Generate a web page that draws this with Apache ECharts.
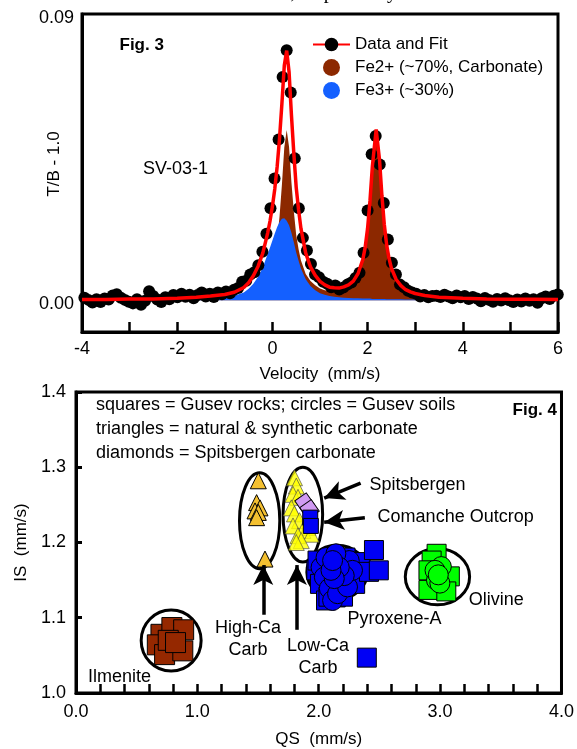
<!DOCTYPE html>
<html>
<head>
<meta charset="utf-8">
<script src="https://cdn.jsdelivr.net/npm/echarts@6/dist/echarts.min.js"></script>
<style>
html, body { margin: 0; padding: 0; background: #fff; }
#chart { width: 577px; height: 749px; }
</style>
</head>
<body>
<div id="chart"></div>
<script>
// ---- Fig. 3 : Mossbauer spectrum (velocity mm/s vs T/B - 1.0) ----
const fitVelocity = [-4.0, -3.5, -3.0, -2.5, -2.0, -1.6, -1.3, -1.0, -0.8, -0.6, -0.5, -0.4, -0.3, -0.2, -0.1, -0.05,
  0.0, 0.05, 0.1, 0.15, 0.2, 0.25, 0.3, 0.35, 0.4, 0.45, 0.5, 0.55, 0.6, 0.7, 0.8, 0.9, 1.0, 1.1, 1.2, 1.3, 1.4, 1.5,
  1.6, 1.7, 1.8, 1.9, 1.95, 2.0, 2.05, 2.1, 2.18, 2.25, 2.3, 2.35, 2.4, 2.45, 2.5, 2.6, 2.7, 2.8, 2.9, 3.0, 3.2, 3.5,
  4.0, 4.5, 5.0, 5.5, 6.0];
const fitValues = [0.0002, 0.0002, 0.0004, 0.0004, 0.0006, 0.0009, 0.0013, 0.0018, 0.0025, 0.0040, 0.0055, 0.0077, 0.0107, 0.0149, 0.0211, 0.0249,
  0.0295, 0.0350, 0.0420, 0.0509, 0.0619, 0.0738, 0.0785, 0.0718, 0.0582, 0.0462, 0.0355, 0.0284, 0.0225, 0.0148, 0.0105, 0.0078, 0.0059, 0.0048, 0.0041, 0.0039, 0.0038, 0.0042,
  0.0048, 0.0060, 0.0084, 0.0128, 0.0167, 0.0226, 0.0312, 0.0421, 0.0537, 0.0442, 0.0330, 0.0239, 0.0174, 0.0131, 0.0101, 0.0065, 0.0046, 0.0033, 0.0026, 0.0021, 0.0015, 0.0009,
  0.0006, 0.0004, 0.0003, 0.0003, 0.0002];
const fe2Values = [0.0001, 0.0001, 0.0002, 0.0002, 0.0003, 0.0004, 0.0006, 0.0008, 0.0011, 0.0016, 0.0019, 0.0025, 0.0033, 0.0045, 0.0066, 0.0083,
  0.0107, 0.0140, 0.0190, 0.0263, 0.0363, 0.0480, 0.0535, 0.0482, 0.0370, 0.0280, 0.0205, 0.0160, 0.0125, 0.0082, 0.0060, 0.0047, 0.0037, 0.0031, 0.0028, 0.0028, 0.0029, 0.0034,
  0.0041, 0.0054, 0.0078, 0.0123, 0.0162, 0.0221, 0.0307, 0.0417, 0.0533, 0.0438, 0.0326, 0.0235, 0.0171, 0.0128, 0.0098, 0.0062, 0.0043, 0.0031, 0.0024, 0.0019, 0.0013, 0.0008,
  0.0005, 0.0003, 0.0002, 0.0002, 0.0001];
const fe3Values = [0.0001, 0.0001, 0.0002, 0.0002, 0.0003, 0.0005, 0.0007, 0.0010, 0.0014, 0.0024, 0.0036, 0.0052, 0.0074, 0.0104, 0.0145, 0.0166,
  0.0188, 0.0210, 0.0230, 0.0246, 0.0256, 0.0258, 0.0250, 0.0236, 0.0212, 0.0182, 0.0150, 0.0124, 0.0100, 0.0066, 0.0045, 0.0031, 0.0022, 0.0017, 0.0013, 0.0011, 0.0009, 0.0008,
  0.0007, 0.0006, 0.0006, 0.0005, 0.0005, 0.0005, 0.0005, 0.0004, 0.0004, 0.0004, 0.0004, 0.0004, 0.0003, 0.0003, 0.0003, 0.0003, 0.0003, 0.0002, 0.0002, 0.0002, 0.0002, 0.0001,
  0.0001, 0.0001, 0.0001, 0.0001, 0.0001];

const dataVelocity = [-3.950, -3.865, -3.780, -3.695, -3.610, -3.525, -3.440, -3.355, -3.270, -3.185, -3.100, -3.015,
  -2.930, -2.845, -2.760, -2.675, -2.590, -2.505, -2.420, -2.335, -2.250, -2.165, -2.080, -1.995, -1.910, -1.825,
  -1.740, -1.655, -1.570, -1.485, -1.400, -1.315, -1.230, -1.145, -1.060, -0.975, -0.890, -0.805, -0.720, -0.635,
  -0.550, -0.465, -0.380, -0.295, -0.210, -0.125, -0.040, 0.045, 0.130, 0.215, 0.300, 0.385, 0.470, 0.555, 0.640,
  0.725, 0.810, 0.895, 0.980, 1.065, 1.150, 1.235, 1.320, 1.405, 1.490, 1.575, 1.660, 1.745, 1.830, 1.915, 2.000,
  2.085, 2.170, 2.255, 2.340, 2.425, 2.510, 2.595, 2.680, 2.765, 2.850, 2.935, 3.020, 3.105, 3.190, 3.275, 3.360,
  3.445, 3.530, 3.615, 3.700, 3.785, 3.870, 3.955, 4.040, 4.125, 4.210, 4.295, 4.380, 4.465, 4.550, 4.635, 4.720,
  4.805, 4.890, 4.975, 5.060, 5.145, 5.230, 5.315, 5.400, 5.485, 5.570, 5.655, 5.740, 5.825, 5.910, 5.995];
const dataValues = [0.0008, 0.0001, -0.0007, 0.0003, -0.0006, 0.0005, 0.0002, 0.0015, 0.0019, 0.0008, 0.0001, -0.0005,
  -0.0010, 0.0003, -0.0014, -0.0002, 0.0028, 0.0013, 0.0002, -0.0006, 0.0009, 0.0003, 0.0016, 0.0009, 0.0020, 0.0011,
  0.0017, 0.0006, 0.0016, 0.0024, 0.0012, 0.0020, 0.0010, 0.0024, 0.0019, 0.0027, 0.0022, 0.0033, 0.0038, 0.0058,
  0.0061, 0.0081, 0.0088, 0.0110, 0.0152, 0.0209, 0.0289, 0.0383, 0.0505, 0.0702, 0.0786, 0.0653, 0.0446, 0.0289, 0.0196,
  0.0156, 0.0114, 0.0081, 0.0072, 0.0058, 0.0052, 0.0041, 0.0046, 0.0034, 0.0040, 0.0049, 0.0056, 0.0070, 0.0086, 0.0149, 0.0282,
  0.0459, 0.0516, 0.0427, 0.0306, 0.0191, 0.0118, 0.0081, 0.0049, 0.0041, 0.0030, 0.0024, 0.0020, 0.0012, 0.0016, 0.0009, 0.0013,
  0.0014, 0.0010, 0.0017, 0.0012, 0.0006, 0.0015, 0.0009, 0.0013, 0.0004, 0.0010, 0.0005, -0.0003, 0.0007, 0.0001, -0.0005, 0.0004,
  -0.0001, 0.0006, 0.0000, -0.0006, 0.0002, -0.0004, 0.0005, -0.0002, 0.0003, -0.0008, 0.0006, 0.0012, 0.0004, 0.0014, 0.0018];

// ---- Fig. 4 : IS vs QS, [QS, IS] ----
const ilmeniteSquares = [[0.70, 1.078], [0.67, 1.064], [0.79, 1.087], [0.887, 1.084], [0.73, 1.051], [0.88, 1.056], [0.76, 1.070], [0.82, 1.067]];
const pyroxeneSquares = [[1.98, 1.163], [1.99, 1.176], [2.01, 1.145], [2.06, 1.123], [2.08, 1.128], [2.14, 1.127], [2.20, 1.128],
  [2.30, 1.145], [2.22, 1.180], [2.345, 1.174], [2.414, 1.161], [2.495, 1.163], [2.455, 1.190], [2.396, 1.047]];
const pyroxeneCircles = [[2.019, 1.167], [2.060, 1.180], [2.046, 1.154], [2.087, 1.139], [2.114, 1.123], [2.155, 1.132],
  [2.237, 1.141], [2.251, 1.176], [2.278, 1.163], [2.210, 1.156], [2.141, 1.185], [2.169, 1.167], [2.128, 1.152],
  [2.101, 1.163], [2.114, 1.176]];
const olivineSquares = [[2.971, 1.185], [2.93, 1.176], [2.904, 1.163], [3.08, 1.155], [2.904, 1.137], [3.051, 1.135]];
const olivineCircles = [[2.97, 1.150], [3.01, 1.168], [2.958, 1.163], [2.998, 1.146], [2.985, 1.157]];
const highCaTriangles = [[1.502, 1.282], [1.488, 1.253], [1.516, 1.246], [1.475, 1.242], [1.502, 1.240], [1.488, 1.233], [1.557, 1.178]];
const lowCaTriangles = [[1.80, 1.286], [1.815, 1.275], [1.788, 1.264], [1.829, 1.260], [1.774, 1.246], [1.80, 1.238],
  [1.842, 1.229], [1.788, 1.222], [1.910, 1.220], [1.869, 1.216], [1.937, 1.211], [1.829, 1.209], [1.856, 1.2025], [1.815, 1.200]];
const spitsbergenDiamonds = [[1.883, 1.253], [1.924, 1.244]];
const comancheSquares = [[1.93, 1.233], [1.935, 1.222]];
// group outlines: [QS centre, IS centre, QS half-width, IS half-height]
const groupEllipses = [[0.784, 1.0697, 0.247, 0.0406], [1.513, 1.2289, 0.166, 0.0637], [1.869, 1.2371, 0.163, 0.063],
  [2.151, 1.1605, 0.249, 0.036], [2.978, 1.1546, 0.265, 0.0374]];
// arrows: [from, to]
const arrowLines = [[[1.543, 1.104], [1.543, 1.170]], [[1.82, 1.084], [1.82, 1.170]],
  [[2.345, 1.279], [2.045, 1.259]], [[2.38, 1.233], [2.045, 1.227]]];

const FONT = "'Liberation Sans', Arial, Helvetica, sans-serif";
const zip = (xs, ys) => xs.map((x, i) => [x, ys[i]]);

const chart = echarts.init(document.getElementById('chart'));

function scatter(name, data, symbol, size, color, z, extra) {
  return Object.assign({
    name: name, type: 'scatter', xAxisIndex: 1, yAxisIndex: 1, data: data,
    symbol: symbol, symbolSize: size, z: z,
    itemStyle: { color: color, borderColor: '#000', borderWidth: 1, opacity: 1 }
  }, extra || {});
}

function text(x, y, str, align, bold) {
  return {
    type: 'text', x: x, y: y, z: 100,
    style: { text: str, font: (bold ? 'bold 17px ' : '18px ') + FONT, fill: '#000', align: align, verticalAlign: 'middle' }
  };
}

const option = {
  animation: false,
  backgroundColor: '#fff',
  grid: [
    { left: 82, right: 19, top: 14, height: 318, show: true, borderColor: '#000', borderWidth: 3 },
    { left: 76, right: 11, top: 392, height: 303.5, show: true, borderColor: '#000', borderWidth: 3 }
  ],
  legend: {
    orient: 'vertical', left: 307, top: 31, itemWidth: 37, itemHeight: 17, itemGap: 6,
    selectedMode: false,
    textStyle: { fontSize: 17, color: '#000', fontFamily: FONT },
    data: [
      { name: 'Data and Fit' },
      { name: 'Fe2+ (~70%, Carbonate)', icon: 'circle' },
      { name: 'Fe3+ (~30%)', icon: 'circle' }
    ]
  },
  xAxis: [
    {
      gridIndex: 0, type: 'value', min: -4, max: 6, interval: 1,
      axisLine: { show: true, onZero: false, lineStyle: { color: '#000', width: 3 } },
      axisTick: { inside: true, length: 10, lineStyle: { color: '#000', width: 2.5 } },
      splitLine: { show: false },
      axisLabel: {
        fontSize: 18, color: '#000', fontFamily: FONT, margin: 8,
        formatter: v => (Math.round(v) % 2 === 0 ? String(Math.round(v)) : '')
      },
      name: 'Velocity  (mm/s)', nameLocation: 'middle', nameGap: 34,
      nameTextStyle: { fontSize: 17, color: '#000', fontFamily: FONT }
    },
    {
      gridIndex: 1, type: 'value', min: 0, max: 4, interval: 0.2,
      axisLine: { show: true, onZero: false, lineStyle: { color: '#000', width: 3 } },
      axisTick: { inside: true, length: 9, lineStyle: { color: '#000', width: 2.5 } },
      splitLine: { show: false },
      axisLabel: {
        fontSize: 18, color: '#000', fontFamily: FONT, margin: 10,
        formatter: v => {
          const r = Math.round(v * 10) / 10;
          return Math.abs(r - Math.round(r)) < 1e-9 ? r.toFixed(1) : '';
        }
      },
      name: 'QS  (mm/s)', nameLocation: 'middle', nameGap: 38,
      nameTextStyle: { fontSize: 17, color: '#000', fontFamily: FONT }
    }
  ],
  yAxis: [
    {
      gridIndex: 0, type: 'value', min: -0.01, max: 0.09, interval: 0.01,
      axisLine: { show: true, onZero: false, lineStyle: { color: '#000', width: 3 } },
      axisTick: { show: false },
      splitLine: { show: false },
      axisLabel: {
        color: '#000', margin: 8,
        formatter: v => (Math.abs(v) < 1e-9 ? '{v|0.00}' : (Math.abs(v - 0.09) < 1e-9 ? '{v|0.09}' : '')),
        rich: { v: { fontSize: 18, fontFamily: FONT, color: '#000', padding: [8, 0, 0, 0] } }
      }
    },
    {
      gridIndex: 1, type: 'value', min: 1.0, max: 1.4, interval: 0.1,
      axisLine: { show: true, onZero: false, lineStyle: { color: '#000', width: 3 } },
      axisTick: { inside: true, length: 6, lineStyle: { color: '#000', width: 3 } },
      splitLine: { show: false },
      axisLabel: { fontSize: 18, color: '#000', fontFamily: FONT, margin: 10, formatter: v => v.toFixed(1) },
      name: 'IS  (mm/s)', nameLocation: 'middle', nameGap: 41,
      nameTextStyle: { fontSize: 17, color: '#000', fontFamily: FONT }
    }
  ],
  graphic: [
    {
      type: 'text', x: 397, y: 3,
      style: { text: 'Fe2+ and Fe3+, respectively', font: "20px 'Liberation Serif', serif", fill: '#000', align: 'right', verticalAlign: 'bottom' }
    },
    {
      type: 'text', x: 54, y: 164, rotation: Math.PI / 2, z: 100,
      style: { text: 'T/B - 1.0', font: '17px ' + FONT, fill: '#000', align: 'center', verticalAlign: 'middle' }
    },
    text(119.5, 45, 'Fig. 3', 'left', true),
    text(143, 169, 'SV-03-1', 'left'),
    text(96, 405, 'squares = Gusev rocks; circles = Gusev soils', 'left'),
    text(96, 429, 'triangles = natural & synthetic carbonate', 'left'),
    text(96, 453, 'diamonds = Spitsbergen carbonate', 'left'),
    text(557, 410, 'Fig. 4', 'right', true),
    text(369.5, 485, 'Spitsbergen', 'left'),
    text(377.6, 517, 'Comanche Outcrop', 'left'),
    text(248, 628, 'High-Ca', 'center'),
    text(248, 650, 'Carb', 'center'),
    text(318, 646, 'Low-Ca', 'center'),
    text(318, 668, 'Carb', 'center'),
    text(347.4, 619, 'Pyroxene-A', 'left'),
    text(468.8, 600, 'Olivine', 'left'),
    text(88, 677, 'Ilmenite', 'left')
  ],
  series: [
    {
      name: 'Fe2+ (~70%, Carbonate)', type: 'line', xAxisIndex: 0, yAxisIndex: 0,
      data: zip(fitVelocity, fe2Values), symbol: 'none', z: 1,
      itemStyle: { color: '#8c2800' }, lineStyle: { width: 0, color: '#8c2800' },
      areaStyle: { color: '#8c2800', opacity: 1 }
    },
    {
      name: 'Fe3+ (~30%)', type: 'line', xAxisIndex: 0, yAxisIndex: 0,
      data: zip(fitVelocity, fe3Values), symbol: 'none', z: 2,
      itemStyle: { color: '#1460ff' }, lineStyle: { width: 0, color: '#1460ff' },
      areaStyle: { color: '#1460ff', opacity: 1 }
    },
    {
      name: 'Data', type: 'scatter', xAxisIndex: 0, yAxisIndex: 0,
      data: zip(dataVelocity, dataValues), symbol: 'circle', symbolSize: 12, z: 3,
      itemStyle: { color: '#000', opacity: 1 }
    },
    {
      name: 'Data and Fit', type: 'line', xAxisIndex: 0, yAxisIndex: 0,
      data: zip(fitVelocity, fitValues), symbol: 'circle', symbolSize: 11, showSymbol: false, z: 4,
      itemStyle: { color: '#000' }, lineStyle: { color: '#ff0000', width: 3.5 }
    },
    {
      name: 'groups', type: 'custom', xAxisIndex: 1, yAxisIndex: 1, z: 1, silent: true,
      data: groupEllipses,
      encode: { x: 0, y: 1 },
      renderItem: (params, api) => {
        const c = api.coord([api.value(0), api.value(1)]);
        const s = api.size([api.value(2), api.value(3)]);
        return {
          type: 'ellipse',
          shape: { cx: c[0], cy: c[1], rx: s[0], ry: s[1] },
          style: { fill: 'none', stroke: '#000', lineWidth: 3 }
        };
      }
    },
    scatter('Ilmenite', ilmeniteSquares, 'rect', 20, '#952800', 3, {
      markLine: {
        silent: true, symbol: ['none', 'arrow'], symbolSize: [15, 20], label: { show: false },
        lineStyle: { color: '#000', width: 3.5, type: 'solid' },
        data: arrowLines.map(a => [{ coord: a[0] }, { coord: a[1] }])
      }
    }),
    scatter('Pyroxene squares', pyroxeneSquares, 'rect', 19, '#0000f5', 3),
    scatter('Pyroxene circles', pyroxeneCircles, 'circle', 20, '#0000f5', 4),
    scatter('Olivine squares', olivineSquares, 'rect', 19, '#00ff00', 3),
    scatter('Olivine circles', olivineCircles, 'circle', 20, '#00ff00', 4),
    scatter('High-Ca', highCaTriangles, 'triangle', 16, '#f4c030', 3),
    scatter('Low-Ca', lowCaTriangles, 'triangle', 16, '#ffff00', 3, { itemStyle: { color: '#ffff00', borderColor: '#444', borderWidth: 0.8 } }),
    scatter('Spitsbergen', spitsbergenDiamonds, 'rect', 14, '#d09af2', 4, { symbolRotate: 35 }),
    scatter('Comanche', comancheSquares, 'rect', 15, '#0000f5', 5)
  ]
};

chart.setOption(option);
</script>
</body>
</html>
